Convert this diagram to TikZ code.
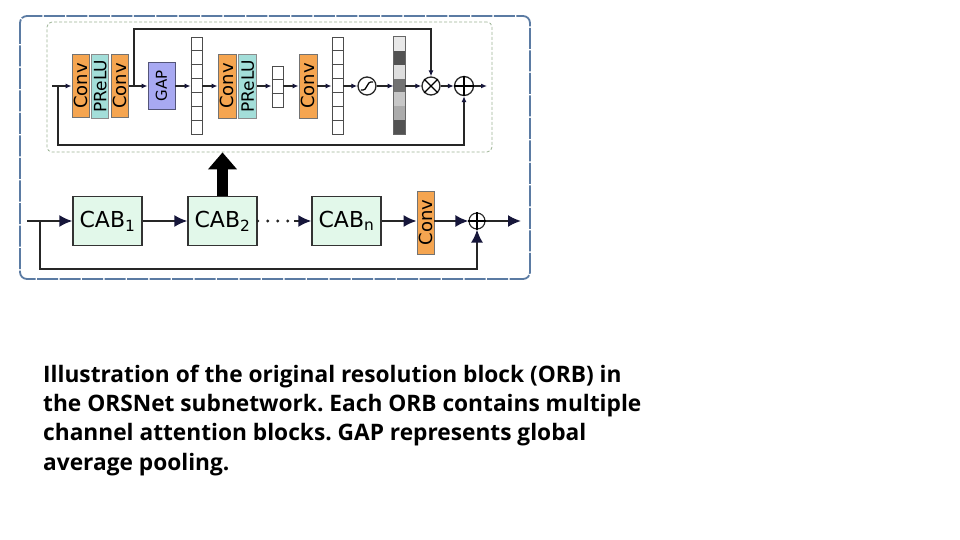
\documentclass[tikz,border=0pt]{standalone}
\usepackage{fontspec}
\setmainfont{DejaVu Sans}
\newfontfamily\capfont{Open Sans}
\usetikzlibrary{arrows.meta,calc,positioning}
\definecolor{convorange}{HTML}{F5A550}
\definecolor{preluteal}{HTML}{A3DED9}
\definecolor{gapblue}{HTML}{A8A9F2}
\definecolor{cabgreen}{HTML}{E2F8EA}
\definecolor{tipnavy}{HTML}{16163A}
\definecolor{framblue}{HTML}{5B7BA3}
\definecolor{innergreen}{HTML}{9DB596}
\tikzset{
  >={Latex[length=6pt,width=5pt,color=tipnavy]},
  arr/.style={->,line width=1.6pt,draw=black!85},
  arrB/.style={-{Latex[length=13pt,width=12pt,color=tipnavy]},line width=2pt,draw=black!85},
  bigarr/.style={-{Triangle[length=17pt,width=28pt]},line width=11pt,draw=black},
  dotline/.style={line width=3.2pt,line cap=round,dash pattern=on 0pt off 10pt,draw=black!85},
}
\tikzstyle{convbox}=[draw=black!55,fill=convorange,line width=0.8pt,inner sep=0pt,minimum width=17pt,minimum height=63pt,font=\fontsize{18}{18}\selectfont]
\tikzstyle{prelubox}=[draw=black!45,fill=preluteal,line width=0.8pt,inner sep=0pt,minimum width=17pt,minimum height=64pt,font=\fontsize{17}{17}\selectfont]
\tikzstyle{gapbox}=[draw=gapblue!50!black,fill=gapblue,line width=0.8pt,inner sep=0pt,minimum width=27pt,minimum height=47pt,font=\fontsize{15}{15}\selectfont]
\tikzstyle{vecbox}=[draw=black!70,fill=white,line width=0.8pt,inner sep=0pt,minimum width=11pt]
\tikzstyle{opcirc}=[circle,draw=black!85,line width=1.3pt,inner sep=0pt,minimum size=18pt]
\tikzstyle{cabbox}=[draw=black!80,fill=cabgreen,line width=1.3pt,inner sep=0pt,minimum width=69pt,minimum height=49pt,font=\fontsize{22}{22}\selectfont]

\begin{document}
\begin{tikzpicture}[x=1pt,y=-1pt]
\useasboundingbox (0,0) rectangle (960,540);
\fill[white] (0,0) rectangle (960,540);

% frames
\draw[framblue,line width=1.8pt,rounded corners=7pt,dash pattern=on 21pt off 1.5pt] (20,16) rectangle (530,279);
\node[draw=innergreen,line width=0.8pt,rounded corners=5pt,dash pattern=on 3pt off 2pt,minimum width=445pt,minimum height=130pt] (inner) at (269.5,87) {};

% channel attention block
\coordinate (inA) at (52,86);
\node[convbox] (conv1) at (80.5,86) {\rotatebox{90}{Conv}};
\node[prelubox,right=2pt of conv1] (prelu1) {\rotatebox{90}{PReLU}};
\node[convbox,right=2pt of prelu1] (conv2) {\rotatebox{90}{Conv}};
\coordinate (split) at (134,86);
\node[gapbox] (gap) at (161.5,86) {\rotatebox{90}{GAP}};
\node[vecbox,minimum height=97pt] (vecA) at (196.5,85.5) {};
\node[convbox,minimum height=64pt,minimum width=18pt] (conv3) at (227,86) {\rotatebox{90}{Conv}};
\node[prelubox,minimum width=18pt,right=2pt of conv3] (prelu2) {\rotatebox{90}{PReLU}};
\node[vecbox,minimum height=41pt] (vecB) at (277.5,86.5) {};
\node[convbox,minimum height=64pt,minimum width=18pt] (conv4) at (308,86) {\rotatebox{90}{Conv}};
\node[vecbox,minimum height=97pt] (vecC) at (337.5,85.5) {};
\node[opcirc] (sig) at (367,86) {};
\node[vecbox,minimum height=97pt] (vecD) at (399.5,85.5) {};
\node[opcirc] (mult) at (431,86) {};
\node[opcirc,minimum size=19pt] (add) at (464,86) {};
\coordinate (outA) at (487,86);

% vector cells
\foreach \v/\n in {vecA/7,vecB/3,vecC/7}
  \foreach \k in {1,...,\numexpr\n-1\relax}
    \draw[black!70,line width=0.8pt] ($(\v.north west)!\k/\n!(\v.south west)$) -- ($(\v.north east)!\k/\n!(\v.south east)$);
\foreach \k/\j/\c in {0/1/black!9,1/2/black!68,2/3/black!13,3/4/black!55,4/5/black!22,5/6/black!33,6/7/black!68}
  \fill[\c] ($(vecD.north west)!\k/7!(vecD.south west)$) rectangle ($(vecD.north east)!\j/7!(vecD.south east)$);
\draw[black!60,line width=0.8pt] (vecD.north west) rectangle (vecD.south east);

% operators
\draw[line width=1.3pt] ($(sig.center)+(-6,4)$) .. controls +(8,1) and +(-8,-1) .. ($(sig.center)+(6,-4)$);
\draw[line width=1.3pt] (mult.45) -- (mult.225) (mult.135) -- (mult.315);
\draw[line width=1.3pt] (add.north) -- (add.south) (add.west) -- (add.east);

\draw[arr] (inA) -- (conv1);
\draw[arr] (conv2) -- (gap);
\draw[arr] (gap) -- (vecA.west |- gap.east);
\draw[arr] (vecA.east |- conv3.west) -- (conv3);
\draw[arr] (prelu2) -- (vecB.west |- prelu2.east);
\draw[arr] (vecB.east |- conv4.west) -- (conv4);
\draw[arr] (conv4) -- (vecC.west |- conv4.east);
\draw[arr] (vecC.east |- sig.west) -- (sig);
\draw[arr] (sig) -- (vecD.west |- sig.east);
\draw[arr] (vecD.east |- mult.west) -- (mult);
\draw[arr] (mult) -- (add);
\draw[arr] (add) -- (outA);
\coordinate (topA) at (431,29);
\draw[arr] (split) |- (topA) -- (mult.north);
\coordinate (skipA) at (58,86);
\coordinate (skipB) at (58,145);
\draw[arr,line width=2pt] (skipA) -- (skipB) -| (add.south);

% original resolution block
\coordinate (inB) at (27,221);
\coordinate (brB) at (40,221);
\node[cabbox] (cab1) at (107.5,221) {CAB\textsubscript{1}};
\node[cabbox] (cab2) at (222.5,221) {CAB\textsubscript{2}};
\coordinate (dotE) at (294,221);
\node[cabbox] (cabn) at (346.5,221) {CAB\textsubscript{n}};
\node[convbox] (conv5) at (425.5,222.5) {\rotatebox{90}{Conv}};
\node[opcirc,minimum size=16pt,line width=1.1pt] (add2) at (477,221) {};
\draw[line width=1.1pt] (add2.north) -- (add2.south) (add2.west) -- (add2.east);
\coordinate (outB) at (521,221);
\coordinate (botB) at (40,269);

\draw[arrB] (inB) -- (cab1);
\draw[arrB] (cab1) -- (cab2);
\draw[dotline] (cab2.east) -- (dotE);
\draw[arrB] (dotE) -- (cabn);
\draw[arrB] (cabn) -- (conv5.west |- cabn.east);
\draw[arrB] (conv5.east |- add2.west) -- (add2);
\draw[arrB] (add2) -- (outB);
\draw[arrB] (brB) -- (botB) -| (add2.south);
\draw[bigarr] (cab2.north) -- (cab2.north |- inner.south);

% caption
\node[anchor=north west,align=left,inner sep=0pt,font=\capfont\bfseries\frenchspacing\fontsize{22.7}{29.2}\selectfont] (cap) at (43,365)
  {Illustration of the original resolution block (ORB) in\\
   the ORSNet subnetwork. Each ORB contains multiple\\
   channel attention blocks. GAP represents global\\
   average pooling.};
\end{tikzpicture}
\end{document}
